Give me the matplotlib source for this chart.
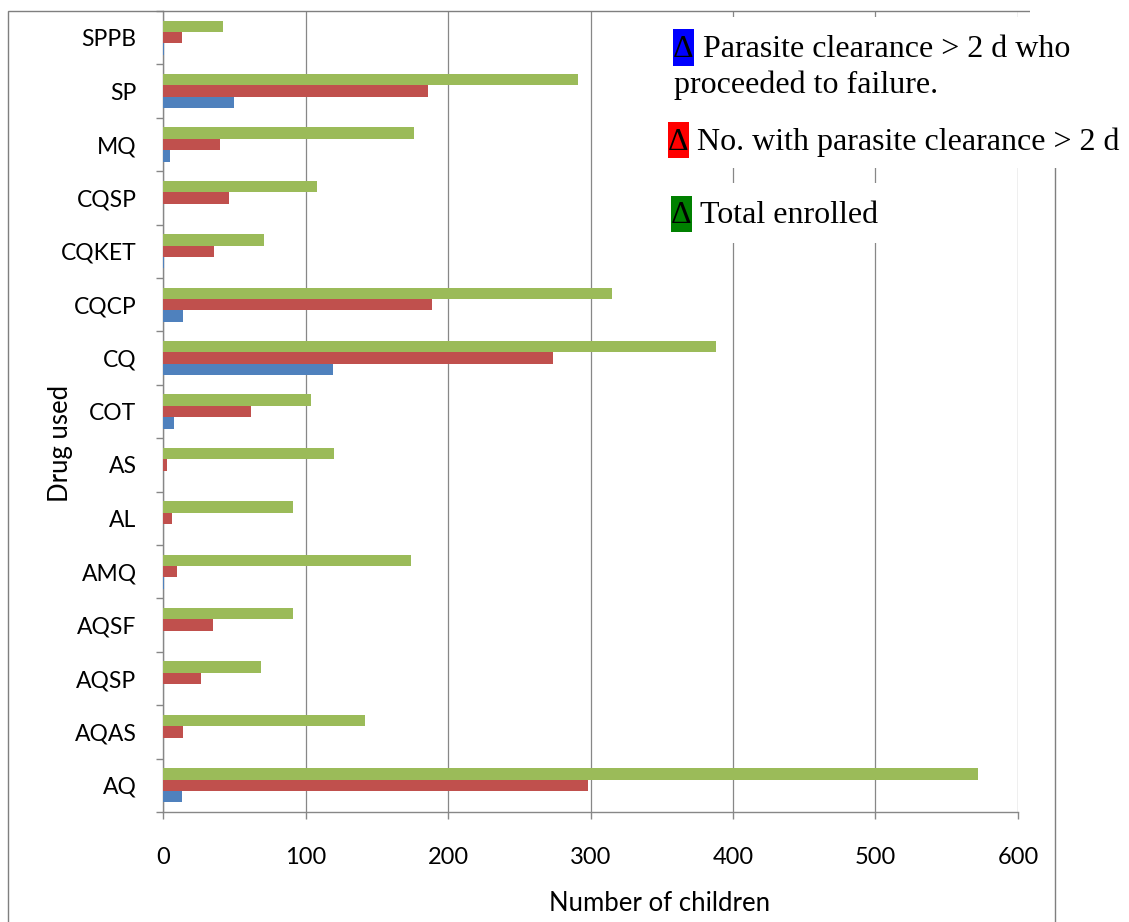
import numpy as np
import matplotlib.pyplot as plt
from matplotlib.patches import Rectangle

# drugs, listed bottom to top as on the axis
drugs = ["AQ", "AQAS", "AQSP", "AQSF", "AMQ", "AL", "AS", "COT",
         "CQ", "CQCP", "CQKET", "CQSP", "MQ", "SP", "SPPB"]
total_enrolled = [572, 142, 69, 91, 174, 91, 120, 104, 388, 315, 71, 108, 176, 291, 42]
slow_clearance = [298, 14, 27, 35, 10, 6, 3, 62, 274, 189, 36, 46, 40, 186, 13]
slow_then_failed = [13, 0, 0, 0, 1, 0, 0, 8, 119, 14, 1, 0, 5, 50, 1]

W, H = 1129, 922
BLUE, RED, GREEN = "#4F81BD", "#C0504D", "#9BBB59"
GRID = "#878787"
SANS = ["Lato", "DejaVu Sans"]
SERIF = ["Liberation Serif", "DejaVu Serif"]


def fx(x):
    return x / W


def fy(y):
    return 1 - y / H


fig = plt.figure(figsize=(W / 100, H / 100), dpi=100)
ax = fig.add_axes([fx(163), fy(812), fx(1018) - fx(163), fy(11) - fy(812)])

y = np.arange(len(drugs))
h = 0.214
ax.barh(y - h, slow_then_failed, height=h, color=BLUE, zorder=3)
ax.barh(y, slow_clearance, height=h, color=RED, zorder=3)
ax.barh(y + h, total_enrolled, height=h, color=GREEN, zorder=3)

ax.set_xlim(0, 600)
ax.set_ylim(-0.5, len(drugs) - 0.5)
ax.set_xticks(range(0, 601, 100))
ax.set_yticks(y)
ax.set_yticklabels(drugs, fontfamily=SANS, fontsize=16.5)
ax.set_yticks(np.arange(-0.5, len(drugs), 1), minor=True)
for lab in ax.get_xticklabels():
    lab.set_fontfamily(SANS)
    lab.set_fontsize(17)

ax.tick_params(axis="y", which="major", length=0, pad=19)
ax.tick_params(axis="y", which="minor", length=5, color=GRID, width=1)
ax.tick_params(axis="x", length=5, color=GRID, width=1, pad=20)
ax.xaxis.grid(True, color=GRID, linewidth=0.9, zorder=0)
ax.set_axisbelow(True)

for side in ["top", "right"]:
    ax.spines[side].set_visible(False)
for side in ["left", "bottom"]:
    ax.spines[side].set_color(GRID)
    ax.spines[side].set_linewidth(1.0)

ax.set_xlabel("Number of children", fontfamily=SANS, fontsize=18.5, va="center")
ax.xaxis.set_label_coords((660 - 163) / 855, (812 - 903) / 801)
ax.set_ylabel("Drug used", fontfamily=SANS, fontsize=18.5, va="center")
ax.yaxis.set_label_coords((60 - 163) / 855, (812 - 443) / 801)

# outer chart frame (bottom runs off the image)
fig.add_artist(Rectangle((fx(8), -0.1), fx(1055) - fx(8), fy(11) + 0.1,
                         transform=fig.transFigure, fill=False,
                         edgecolor="#7f7f7f", linewidth=1.0, zorder=3))

# legend panels pasted over the plot
fig.add_artist(Rectangle((fx(660), fy(168)), fx(W + 5) - fx(660), fy(17) - fy(168),
                         transform=fig.transFigure, facecolor="white",
                         edgecolor="none", zorder=5))
fig.add_artist(Rectangle((fx(1030), fy(20)), fx(W + 5) - fx(1030), fy(5) - fy(20),
                         transform=fig.transFigure, facecolor="white",
                         edgecolor="none", zorder=5))
fig.add_artist(Rectangle((fx(664), fy(243)), fx(1000) - fx(664), fy(183) - fy(243),
                         transform=fig.transFigure, facecolor="white",
                         edgecolor="none", zorder=5))

legend_rows = [
    ("#0000FF", 673, 29, 66, 57, "Parasite clearance > 2 d who", 703),
    ("#FF0000", 668, 122, 158, 150, "No. with parasite clearance > 2 d", 697),
    ("#008000", 671, 196, 232, 223, "Total enrolled", 700),
]
for color, x0, top, bottom, base, label, tx in legend_rows:
    fig.add_artist(Rectangle((fx(x0), fy(bottom)), fx(21), fy(top) - fy(bottom),
                             transform=fig.transFigure, facecolor=color,
                             edgecolor="none", zorder=6))
    fig.text(fx(x0), fy(base), "\u0394", fontfamily=SERIF, fontsize=23,
             va="baseline", ha="left", zorder=7)
    fig.text(fx(tx), fy(base), label, fontfamily=SERIF, fontsize=23,
             va="baseline", ha="left", zorder=7)
fig.text(fx(674), fy(93), "proceeded to failure.", fontfamily=SERIF, fontsize=23,
         va="baseline", ha="left", zorder=7)

fig.savefig("out.png", dpi=100)
